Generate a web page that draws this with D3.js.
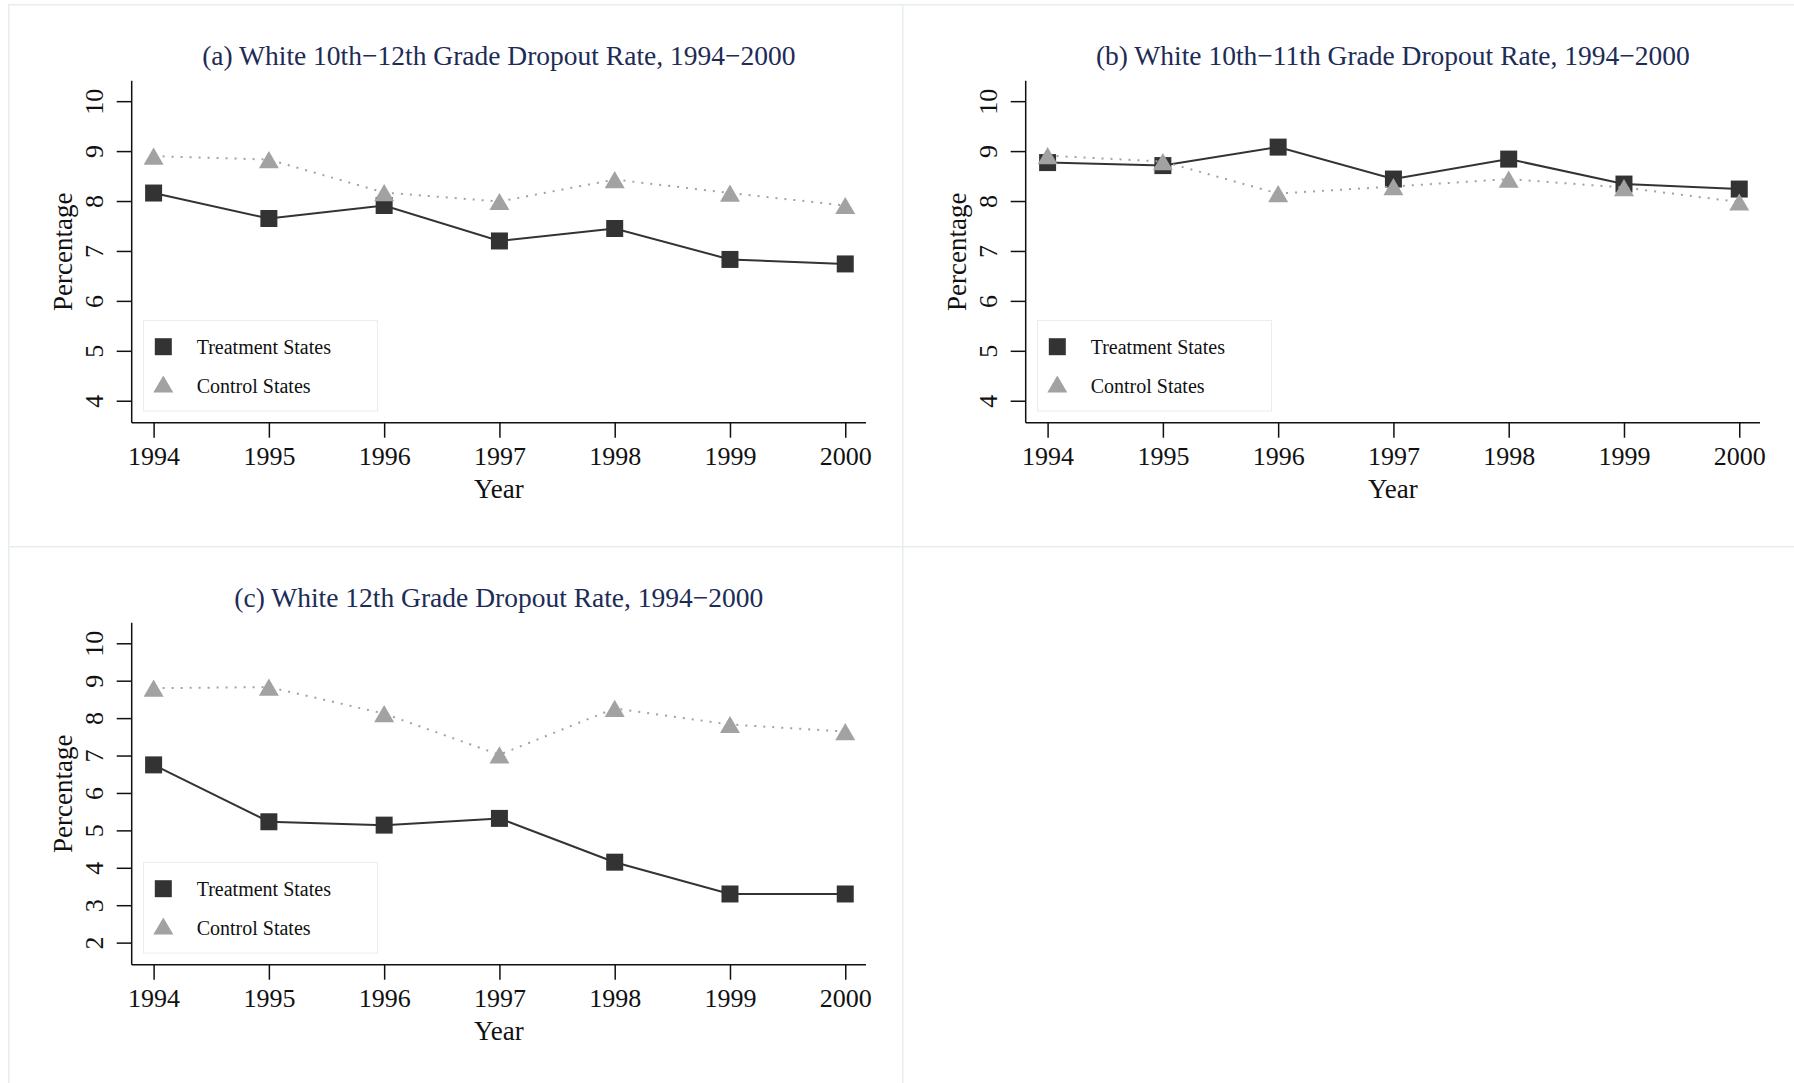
<!DOCTYPE html>
<html>
<head>
<meta charset="utf-8">
<script src="https://cdn.jsdelivr.net/npm/d3@7"></script>
<style>
  body { margin: 0; background: #fff; }
  svg { display: block; }
</style>
</head>
<body>
<div id="chart"></div>
<script>
// Data
const years = [1994, 1995, 1996, 1997, 1998, 1999, 2000];
const titles = [
  '(a) White 10th\u221212th Grade Dropout Rate, 1994\u22122000',
  '(b) White 10th\u221211th Grade Dropout Rate, 1994\u22122000',
  '(c) White 12th Grade Dropout Rate, 1994\u22122000'
];
const treatmentA = [8.16, 7.65, 7.91, 7.20, 7.45, 6.83, 6.74];
const controlA   = [8.90, 8.83, 8.17, 7.99, 8.43, 8.16, 7.91];
const treatmentB = [8.77, 8.71, 9.08, 8.44, 8.84, 8.34, 8.24];
const controlB   = [8.91, 8.79, 8.15, 8.29, 8.44, 8.27, 7.98];
const treatmentC = [6.75, 5.23, 5.14, 5.32, 4.15, 3.30, 3.30];
const controlC   = [8.80, 8.83, 8.12, 7.02, 8.26, 7.83, 7.64];
const yTicksAB = [4, 5, 6, 7, 8, 9, 10];
const yTicksC  = [2, 3, 4, 5, 6, 7, 8, 9, 10];
const yDomainAB = [3.56, 10.41];
const yDomainC  = [1.41, 10.55];
const xDomain = [1993.81, 2000.18];
const legendLabels = ['Treatment States', 'Control States'];
const xLabel = 'Year';
const yLabel = 'Percentage';

const panels = [
  {title: titles[0], treat: treatmentA, ctrl: controlA, ticks: yTicksAB, dom: yDomainAB, ox: 8, oy: 4},
  {title: titles[1], treat: treatmentB, ctrl: controlB, ticks: yTicksAB, dom: yDomainAB, ox: 902, oy: 4},
  {title: titles[2], treat: treatmentC, ctrl: controlC, ticks: yTicksC, dom: yDomainC, ox: 8, oy: 546}
];

const W = 1794, H = 1083;
const panelW = 894, panelH = 542;
const plot = {left: 123.7, right: 858, top: 76.7, bottom: 418.7};
const font = '"Liberation Serif", "Times New Roman", serif';
const dark = '#333333', grey = '#a2a2a2', frame = '#e6eef0';

// triangle centred on its bounding box, size = width in px
const boxTriangle = {
  draw(ctx, w) {
    const h = w * 0.86;
    ctx.moveTo(0, -h / 2);
    ctx.lineTo(w / 2, h / 2);
    ctx.lineTo(-w / 2, h / 2);
    ctx.closePath();
  }
};
const squarePath = d3.symbol(d3.symbolSquare, 17 * 17)();
const trianglePath = d3.symbol(boxTriangle, 20)();

const svg = d3.select('#chart').append('svg')
  .attr('width', W).attr('height', H)
  .attr('viewBox', [0, 0, W, H])
  .style('font-family', font);

svg.append('rect').attr('width', W).attr('height', H).attr('fill', '#fff');

panels.forEach(p => {
  const g = svg.append('g').attr('transform', `translate(${p.ox},${p.oy})`);

  g.append('rect')
    .attr('x', 0.75).attr('y', 0.75)
    .attr('width', panelW).attr('height', panelH)
    .attr('fill', '#fff')
    .attr('stroke', frame).attr('stroke-width', 1.5);

  const x = d3.scaleLinear().domain(xDomain).range([plot.left, plot.right]);
  const y = d3.scaleLinear().domain(p.dom).range([plot.bottom, plot.top]);

  // title
  g.append('text')
    .attr('x', (plot.left + plot.right) / 2).attr('y', 61)
    .attr('text-anchor', 'middle')
    .attr('fill', '#1d2c56')
    .style('font-size', '27.5px')
    .text(p.title);

  // x axis
  const xAxis = g.append('g')
    .attr('transform', `translate(0,${plot.bottom})`)
    .call(d3.axisBottom(x).tickValues(years).tickFormat(d3.format('d')).tickSize(15).tickPadding(8));
  xAxis.select('.domain').attr('d', `M${plot.left},0H${plot.right}`)
    .attr('stroke', '#111').attr('stroke-width', 1.5);
  xAxis.selectAll('.tick line').attr('stroke', '#111').attr('stroke-width', 1.5);
  xAxis.selectAll('.tick text')
    .attr('fill', '#111').attr('y', 42).attr('dy', null)
    .style('font-size', '26px').style('font-family', font);

  // y axis
  const yAxis = g.append('g')
    .attr('transform', `translate(${plot.left},0)`)
    .call(d3.axisLeft(y).tickValues(p.ticks).tickFormat(d3.format('d')).tickSize(15));
  yAxis.select('.domain').attr('d', `M0,${plot.top}V${plot.bottom}`)
    .attr('stroke', '#111').attr('stroke-width', 1.5);
  yAxis.selectAll('.tick line').attr('stroke', '#111').attr('stroke-width', 1.5);
  yAxis.selectAll('.tick text')
    .attr('fill', '#111').attr('x', null).attr('dy', null)
    .attr('transform', 'translate(-29,0) rotate(-90)')
    .attr('text-anchor', 'middle')
    .style('font-size', '26px').style('font-family', font);

  // axis titles
  g.append('text')
    .attr('x', (plot.left + plot.right) / 2).attr('y', 494)
    .attr('text-anchor', 'middle').attr('fill', '#111')
    .style('font-size', '27px')
    .text(xLabel);
  g.append('text')
    .attr('transform', `translate(64,${(plot.top + plot.bottom) / 2}) rotate(-90)`)
    .attr('text-anchor', 'middle').attr('fill', '#111')
    .style('font-size', '27px')
    .text(yLabel);

  const line = d3.line().x((d, i) => x(years[i])).y(d => y(d));

  // treatment series
  g.append('path').datum(p.treat)
    .attr('d', line).attr('fill', 'none')
    .attr('stroke', dark).attr('stroke-width', 2);
  g.append('g').selectAll('path')
    .data(p.treat).enter().append('path')
    .attr('d', squarePath)
    .attr('transform', (d, i) => `translate(${x(years[i])},${y(d)})`)
    .attr('fill', dark);

  // control series
  g.append('path').datum(p.ctrl)
    .attr('d', line).attr('fill', 'none')
    .attr('stroke', grey).attr('stroke-width', 2)
    .attr('stroke-dasharray', '2,7');
  g.append('g').selectAll('path')
    .data(p.ctrl).enter().append('path')
    .attr('d', trianglePath)
    .attr('transform', (d, i) => `translate(${x(years[i])},${y(d)})`)
    .attr('fill', grey);

  // legend
  const lg = g.append('g');
  lg.append('rect')
    .attr('x', 135.5).attr('y', 316.5).attr('width', 234).attr('height', 90.5)
    .attr('fill', '#fff').attr('stroke', frame).attr('stroke-width', 1);
  const items = [
    {label: legendLabels[0], path: squarePath, fill: dark, cy: 342.7, ty: 350},
    {label: legendLabels[1], path: trianglePath, fill: grey, cy: 380, ty: 389}
  ];
  items.forEach(it => {
    lg.append('path').attr('d', it.path)
      .attr('transform', `translate(155.3,${it.cy})`).attr('fill', it.fill);
    lg.append('text').attr('x', 188.7).attr('y', it.ty)
      .attr('fill', '#111').style('font-size', '20px')
      .text(it.label);
  });
});
</script>
</body>
</html>
